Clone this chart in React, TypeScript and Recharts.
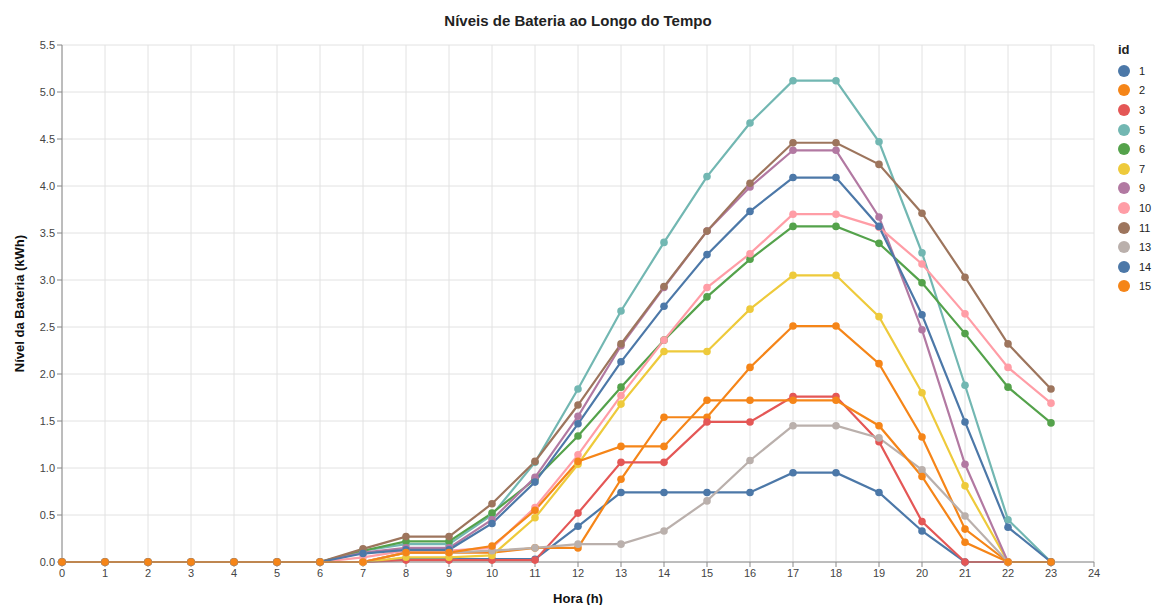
import React from "react";
import { LineChart, Line, XAxis, YAxis, CartesianGrid } from "recharts";

const hours = [0, 1, 2, 3, 4, 5, 6, 7, 8, 9, 10, 11, 12, 13, 14, 15, 16, 17, 18, 19, 20, 21, 22, 23];
const xTicks = [0, 1, 2, 3, 4, 5, 6, 7, 8, 9, 10, 11, 12, 13, 14, 15, 16, 17, 18, 19, 20, 21, 22, 23, 24];
const yTicks = [0, 0.5, 1, 1.5, 2, 2.5, 3, 3.5, 4, 4.5, 5, 5.5];

const ids = ["1", "2", "3", "5", "6", "7", "9", "10", "11", "13", "14", "15"];
const colors = ["#4c78a8", "#f58518", "#e45756", "#72b7b2", "#54a24b", "#eeca3b", "#b279a2", "#ff9da6", "#9d755d", "#bab0ac", "#4c78a8", "#f58518"];

const s1 = [0, 0, 0, 0, 0, 0, 0, 0, 0.03, 0.03, 0.03, 0.03, 0.38, 0.74, 0.74, 0.74, 0.74, 0.95, 0.95, 0.74, 0.33, 0, 0, 0];
const s2 = [0, 0, 0, 0, 0, 0, 0, 0, 0.1, 0.1, 0.1, 0.15, 0.15, 0.88, 1.54, 1.54, 2.07, 2.51, 2.51, 2.11, 1.33, 0.35, 0, 0];
const s3 = [0, 0, 0, 0, 0, 0, 0, 0, 0.02, 0.02, 0.02, 0.02, 0.52, 1.06, 1.06, 1.49, 1.49, 1.76, 1.76, 1.28, 0.43, 0, 0, 0];
const s5 = [0, 0, 0, 0, 0, 0, 0, 0.12, 0.19, 0.19, 0.5, 1.06, 1.84, 2.67, 3.4, 4.1, 4.67, 5.12, 5.12, 4.47, 3.29, 1.88, 0.45, 0];
const s6 = [0, 0, 0, 0, 0, 0, 0, 0.12, 0.22, 0.22, 0.52, 0.88, 1.34, 1.86, 2.36, 2.82, 3.22, 3.57, 3.57, 3.39, 2.97, 2.43, 1.86, 1.48];
const s7 = [0, 0, 0, 0, 0, 0, 0, 0, 0.05, 0.05, 0.07, 0.47, 1.04, 1.68, 2.24, 2.24, 2.69, 3.05, 3.05, 2.61, 1.8, 0.81, 0, 0];
const s9 = [0, 0, 0, 0, 0, 0, 0, 0.1, 0.15, 0.15, 0.45, 0.9, 1.55, 2.3, 2.92, 3.52, 3.99, 4.38, 4.38, 3.67, 2.47, 1.04, 0, 0];
const s10 = [0, 0, 0, 0, 0, 0, 0, 0.05, 0.12, 0.12, 0.15, 0.58, 1.14, 1.77, 2.36, 2.92, 3.28, 3.7, 3.7, 3.56, 3.17, 2.64, 2.07, 1.69];
const s11 = [0, 0, 0, 0, 0, 0, 0, 0.14, 0.27, 0.27, 0.62, 1.07, 1.67, 2.32, 2.93, 3.52, 4.03, 4.46, 4.46, 4.23, 3.71, 3.03, 2.32, 1.84];
const s13 = [0, 0, 0, 0, 0, 0, 0, 0, 0.1, 0.1, 0.12, 0.15, 0.19, 0.19, 0.33, 0.65, 1.08, 1.45, 1.45, 1.32, 0.98, 0.49, 0, 0];
const s14 = [0, 0, 0, 0, 0, 0, 0, 0.09, 0.13, 0.13, 0.41, 0.85, 1.47, 2.13, 2.72, 3.27, 3.73, 4.09, 4.09, 3.57, 2.63, 1.49, 0.37, 0];
const s15 = [0, 0, 0, 0, 0, 0, 0, 0, 0.1, 0.1, 0.17, 0.55, 1.07, 1.23, 1.23, 1.72, 1.72, 1.72, 1.72, 1.45, 0.91, 0.21, 0, 0];

const series = [s1, s2, s3, s5, s6, s7, s9, s10, s11, s13, s14, s15];

const rows = hours.map((h, i) => {
  const row: Record<string, number> = { hour: h };
  ids.forEach((id, k) => {
    row["id" + id] = series[k][i];
  });
  return row;
});

const font = "'Liberation Sans', Arial, sans-serif";

export default function App() {
  return (
    <div style={{ position: "absolute", left: 0, top: 0, width: 1158, height: 605, background: "#fff", fontFamily: font }}>
      <div
        style={{
          position: "absolute",
          left: 0,
          width: 1156,
          top: 12,
          textAlign: "center",
          fontWeight: "bold",
          fontSize: 15,
          color: "#222",
        }}
      >
        Níveis de Bateria ao Longo do Tempo
      </div>
      <LineChart width={1158} height={605} data={rows} margin={{ top: 45, right: 64, bottom: 8, left: 0 }}>
        <CartesianGrid stroke="#e2e2e2" />
        <XAxis
          dataKey="hour"
          type="number"
          domain={[0, 24]}
          ticks={xTicks}
          interval={0}
          height={35}
          stroke="#888"
          tick={{ fill: "#444", fontSize: 11, fontFamily: font }}
          tickSize={5}
          label={{ value: "Hora (h)", position: "insideBottom", offset: -6, style: { fontWeight: "bold", fontSize: 13, fill: "#111", fontFamily: font } }}
        />
        <YAxis
          type="number"
          domain={[0, 5.5]}
          ticks={yTicks}
          interval={0}
          width={62}
          stroke="#888"
          tickSize={5}
          tickFormatter={(v: number) => v.toFixed(1)}
          tick={{ fill: "#444", fontSize: 11, fontFamily: font }}
          label={{
            value: "Nível da Bateria (kWh)",
            angle: -90,
            position: "insideLeft",
            offset: 19,
            style: { textAnchor: "middle", fontWeight: "bold", fontSize: 13, fill: "#111", fontFamily: font },
          }}
        />
        {ids.map((id, k) => (
          <Line
            key={id}
            dataKey={"id" + id}
            stroke={colors[k]}
            strokeWidth={2.2}
            dot={{ r: 3.8, fill: colors[k], stroke: colors[k], strokeWidth: 0 }}
            isAnimationActive={false}
          />
        ))}
      </LineChart>
      <div style={{ position: "absolute", left: 1118, top: 42, fontSize: 11, color: "#222" }}>
        <div style={{ fontWeight: "bold", fontSize: 13, marginBottom: 4 }}>id</div>
        {ids.map((id, k) => (
          <div key={id} style={{ display: "flex", alignItems: "center", height: 19.6 }}>
            <span
              style={{
                display: "inline-block",
                width: 12,
                height: 12,
                borderRadius: 6,
                background: colors[k],
                marginRight: 9,
              }}
            />
            <span>{id}</span>
          </div>
        ))}
      </div>
    </div>
  );
}
